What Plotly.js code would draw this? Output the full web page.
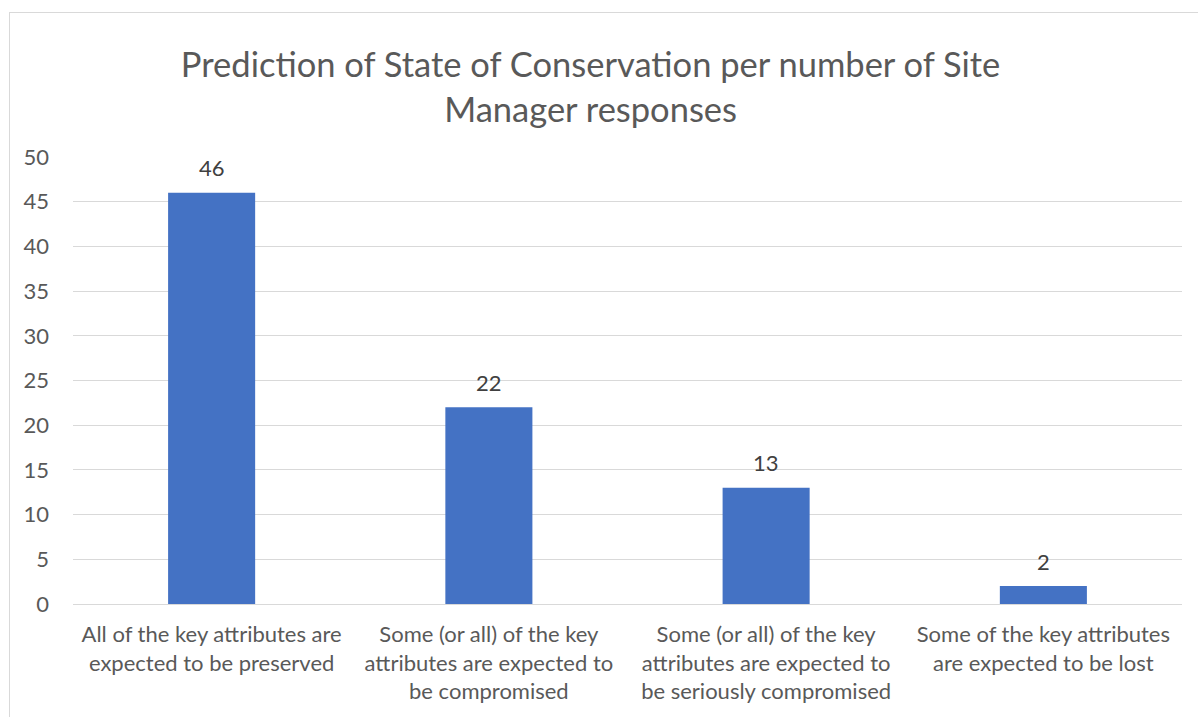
<!DOCTYPE html>
<html>
<head>
<meta charset="utf-8">
<script src="https://cdn.plot.ly/plotly-3.0.1.min.js"></script>
<style>
  html, body { margin: 0; padding: 0; background: #fff; }
  #frame { position: absolute; left: 9px; top: 12px; width: 1300px; height: 800px; border: 1px solid #d9d9d9; box-sizing: border-box; pointer-events: none; z-index: 5; }
  #chart { width: 1198px; height: 717px; }
</style>
</head>
<body>
<div id="frame"></div>
<div id="chart"></div>
<script>
const categories = [
  "All of the key attributes are<br>expected to be preserved",
  "Some (or all) of the key<br>attributes are expected to<br>be compromised",
  "Some (or all) of the key<br>attributes are expected to<br>be seriously compromised",
  "Some of the key attributes<br>are expected to be lost"
];
const responses = [46, 22, 13, 2];
const yTicks = [0, 5, 10, 15, 20, 25, 30, 35, 40, 45, 50];

const fontFam = "Lato, 'Open Sans', sans-serif";

const trace = {
  type: 'bar',
  x: categories,
  y: responses,
  marker: { color: '#4472c4' },
  hoverinfo: 'none'
};

const labels = categories.map((c, i) => ({
  x: c,
  y: responses[i],
  xref: 'x',
  yref: 'y',
  text: String(responses[i]),
  showarrow: false,
  yanchor: 'middle',
  yshift: 25,
  font: { family: fontFam, size: 22, color: '#404040' }
}));

const layout = {
  width: 1198,
  height: 717,
  margin: { l: 73, r: 16, t: 157, b: 113 },
  paper_bgcolor: '#ffffff',
  plot_bgcolor: '#ffffff',
  bargap: 0.686,
  showlegend: false,
  annotations: labels,
  title: {
    text: 'Prediction of State of Conservation per number of Site<br>Manager responses',
    font: { family: fontFam, size: 34.5, color: '#595959' },
    xref: 'container', x: 0.493, xanchor: 'center',
    yref: 'container', y: 0.893, yanchor: 'top'
  },
  xaxis: {
    type: 'category',
    showgrid: false,
    showline: false,
    zeroline: false,
    ticks: '',
    ticklabelstandoff: 15,
    tickfont: { family: fontFam, size: 22, color: '#595959' },
    automargin: false
  },
  yaxis: {
    range: [0, 50],
    tickvals: yTicks,
    ticktext: yTicks.map(String),
    showgrid: true,
    gridcolor: '#d9d9d9',
    gridwidth: 1,
    zeroline: true,
    zerolinecolor: '#d9d9d9',
    zerolinewidth: 1,
    showline: false,
    ticks: '',
    ticklabelstandoff: 23,
    tickfont: { family: fontFam, size: 22, color: '#595959' },
    automargin: false,
    fixedrange: true
  }
};

Plotly.newPlot('chart', [trace], layout, { displayModeBar: false, staticPlot: true });
</script>
</body>
</html>
